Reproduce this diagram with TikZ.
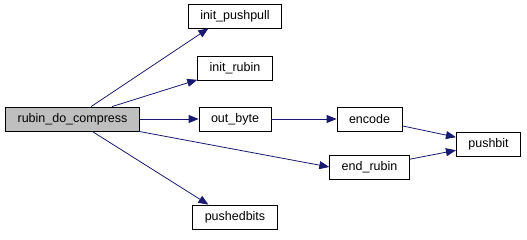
\documentclass[tikz,border=0pt]{standalone}
\usepackage{fontspec}
\setmainfont{Liberation Sans}
\usetikzlibrary{arrows.meta}
\definecolor{edgeblue}{HTML}{191970}
\definecolor{rootgray}{HTML}{BFBFBF}
\begin{document}
\begin{tikzpicture}[x=1pt,y=-1pt,
  fn/.style={draw=black, fill=white, line width=0.8pt, minimum height=24pt,
    inner xsep=12pt, inner ysep=0pt, font=\fontsize{12.5}{14}\selectfont},
  root/.style={fn, fill=rootgray},
  call/.style={draw=edgeblue, line width=0.8pt,
    -{Triangle[length=10pt,width=8pt]}}]
\useasboundingbox (0,0) rectangle (527,240);

% functions
\node[root] (rdc) at (72.5,119) {rubin\_do\_compress};
\node[fn] (ipp) at (235,16)  {init\_pushpull};
\node[fn] (ir)  at (235,68)  {init\_rubin};
\node[fn] (ob)  at (235,119) {out\_byte};
\node[fn] (pb)  at (235,217) {pushedbits};
\node[fn] (enc) at (369.5,119) {encode};
\node[fn] (er)  at (369.5,167) {end\_rubin};
\node[fn] (pbit) at (488.5,144) {pushbit};

% calls
\draw[call] (rdc) -- (ipp.-155);
\draw[call] (rdc) -- (ir);
\draw[call] (rdc) -- (ob);
\draw[call] (rdc) -- (er.west);
\draw[call] (rdc) -- (pb.155);
\draw[call] (ob) -- (enc);
\draw[call] (enc) -- (pbit);
\draw[call] (er) -- (pbit);
\end{tikzpicture}
\end{document}
